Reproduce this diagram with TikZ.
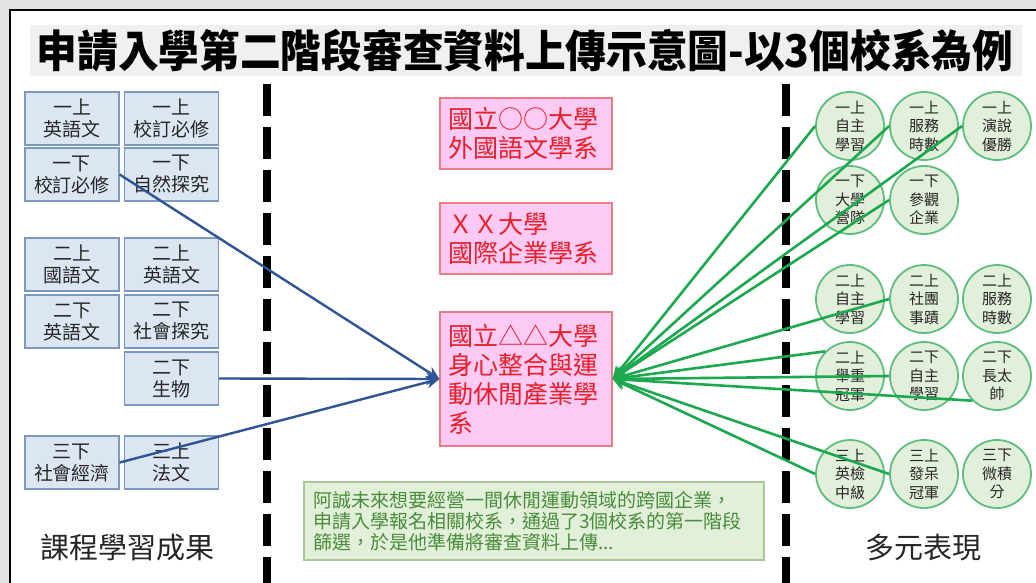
\documentclass[tikz,border=0pt]{standalone}
\usepackage{fontspec}
\setmainfont{Noto Sans CJK TC}[Script=CJK, Language=Chinese Traditional]
\usetikzlibrary{arrows.meta}
\definecolor{bggray}{RGB}{226,226,226}
\definecolor{titlegray}{RGB}{240,240,240}
\definecolor{lboxf}{RGB}{220,230,242}
\definecolor{lboxd}{RGB}{125,152,190}
\definecolor{pinkf}{RGB}{252,202,243}
\definecolor{pinkd}{RGB}{236,125,135}
\definecolor{redt}{RGB}{232,30,42}
\definecolor{circf}{RGB}{226,239,218}
\definecolor{circd}{RGB}{95,190,125}
\definecolor{glinec}{RGB}{28,168,78}
\definecolor{blinec}{RGB}{47,85,151}
\definecolor{noteF}{RGB}{226,240,217}
\definecolor{noteD}{RGB}{169,200,150}
\definecolor{noteT}{RGB}{72,140,60}
\definecolor{txt}{RGB}{38,38,38}
\begin{document}
\begin{tikzpicture}[x=1pt,y=-1pt,
  lbox/.style={draw=lboxd, fill=lboxf, line width=1.2pt, minimum width=94pt, minimum height=53pt, inner sep=0pt, align=center, font=\fontsize{19}{22}\selectfont, text=txt},
  ubox/.style={draw=pinkd, fill=pinkf, line width=1.2pt, text width=156pt, inner xsep=8pt, inner ysep=0pt, align=left, text=redt, font=\fontsize{25}{29}\selectfont},
  circ/.style={circle, draw=circd, fill=circf, line width=1.8pt, minimum size=68pt, inner sep=0pt, align=center, font=\fontsize{15}{18.5}\selectfont, text=txt},
  gconn/.style={draw=glinec, line width=2.6pt, -{Stealth[length=13pt,width=12pt]}},
  bconn/.style={draw=blinec, line width=2.4pt, -{Stealth[length=13pt,width=12pt]}},
  dashv/.style={line width=8pt, dash pattern=on 32pt off 11pt},
  biglabel/.style={font=\fontsize{29}{32}\selectfont, text=txt}
]
\useasboundingbox (0,0) rectangle (1036,583);
\clip (0,0) rectangle (1036,583);
\fill[bggray] (0,0) rectangle (1036,583);
\fill[white] (10,10) rectangle (1036,583);
\draw[line width=2.5pt] (10,583) -- (10,10) -- (1036,10);
\fill[titlegray] (30,25) rectangle (1022,76);
\node[font=\fontsize{44}{46}\selectfont\bfseries, xscale=0.925] (title) at (525,51) {申請入學第二階段審查資料上傳示意圖-以3個校系為例};

% dashed separators
\draw[dashv] (267,84) -- (267,600);
\draw[dashv] (786,84) -- (786,600);

% left boxes
\node[lbox] (a1) at (72,118.5) {一上\\英語文};
\node[lbox] (b1) at (171.5,118.5) {一上\\校訂必修};
\node[lbox] (a2) at (72,174.5) {一下\\校訂必修};
\node[lbox] (b2) at (171.5,174.5) {一下\\自然探究};
\node[lbox] (a3) at (72,264.5) {二上\\國語文};
\node[lbox] (b3) at (171.5,264.5) {二上\\英語文};
\node[lbox] (a4) at (72,321.5) {二下\\英語文};
\node[lbox] (b4) at (171.5,321.5) {二下\\社會探究};
\node[lbox] (b5) at (171.5,378.5) {二下\\生物};
\node[lbox] (a6) at (72,462.5) {三下\\社會經濟};
\node[lbox] (b6) at (171.5,462.5) {三上\\法文};

\node[biglabel] (lefttitle) at (127,548) {課程學習成果};
\node[biglabel] (righttitle) at (923,548) {多元表現};

% university boxes
\node[ubox, minimum height=71pt] (u1) at (526,133.5) {國立○○大學\\外國語文學系};
\node[ubox, minimum height=71pt] (u2) at (526,238.5) {ＸＸ大學\\國際企業學系};
\node[ubox, minimum height=134pt] (u3) at (526,379) {國立△△大學\\身心整合與運\\動休閒產業學\\系};

% note
\node[draw=noteD, fill=noteF, line width=1.2pt, text width=442pt, inner xsep=9pt, minimum height=78pt, align=left, text=noteT, font=\fontsize{19}{21}\selectfont] (note) at (534,521) {阿誠未來想要經營一間休閒運動領域的跨國企業，\\申請入學報名相關校系，通過了3個校系的第一階段\\篩選，於是他準備將審查資料上傳...};

% circles
\node[circ] (c11) at (850,126) {一上\\自主\\學習};
\node[circ] (c12) at (924,126) {一上\\服務\\時數};
\node[circ] (c13) at (997,126) {一上\\演說\\優勝};
\node[circ] (c21) at (850,200) {一下\\大學\\營隊};
\node[circ] (c22) at (924,200) {一下\\參觀\\企業};
\node[circ] (c31) at (850,299) {二上\\自主\\學習};
\node[circ] (c32) at (924,299) {二上\\社團\\事蹟};
\node[circ] (c33) at (997,299) {二上\\服務\\時數};
\node[circ] (c41) at (850,376) {二上\\舉重\\冠軍};
\node[circ] (c42) at (924,376) {二下\\自主\\學習};
\node[circ] (c43) at (997,376) {二下\\長太\\帥};
\node[circ] (c51) at (850,474) {三上\\英檢\\中級};
\node[circ] (c52) at (924,474) {三上\\發呆\\冠軍};
\node[circ] (c53) at (997,474) {三下\\微積\\分};

% blue connectors
\draw[bconn] (a2.east) -- (u3.west);
\draw[bconn] (b5.east) -- (u3.west);
\draw[bconn] (a6.east) -- (u3.west);

% green connectors
\draw[gconn] (c11.west) -- (u3.east);
\draw[gconn] (c12.west) -- (u3.east);
\draw[gconn] (c13.west) -- (u3.east);
\draw[gconn] (c22.west) -- (u3.east);
\draw[gconn] (c32.west) -- (u3.east);
\draw[gconn] (c41.north west) -- (u3.east);
\draw[gconn] (c42.west) -- (u3.east);
\draw[gconn] (c43.south west) -- (u3.east);
\draw[gconn] (c51.west) -- (u3.east);
\draw[gconn] (c52.west) -- (u3.east);
\end{tikzpicture}
\end{document}
